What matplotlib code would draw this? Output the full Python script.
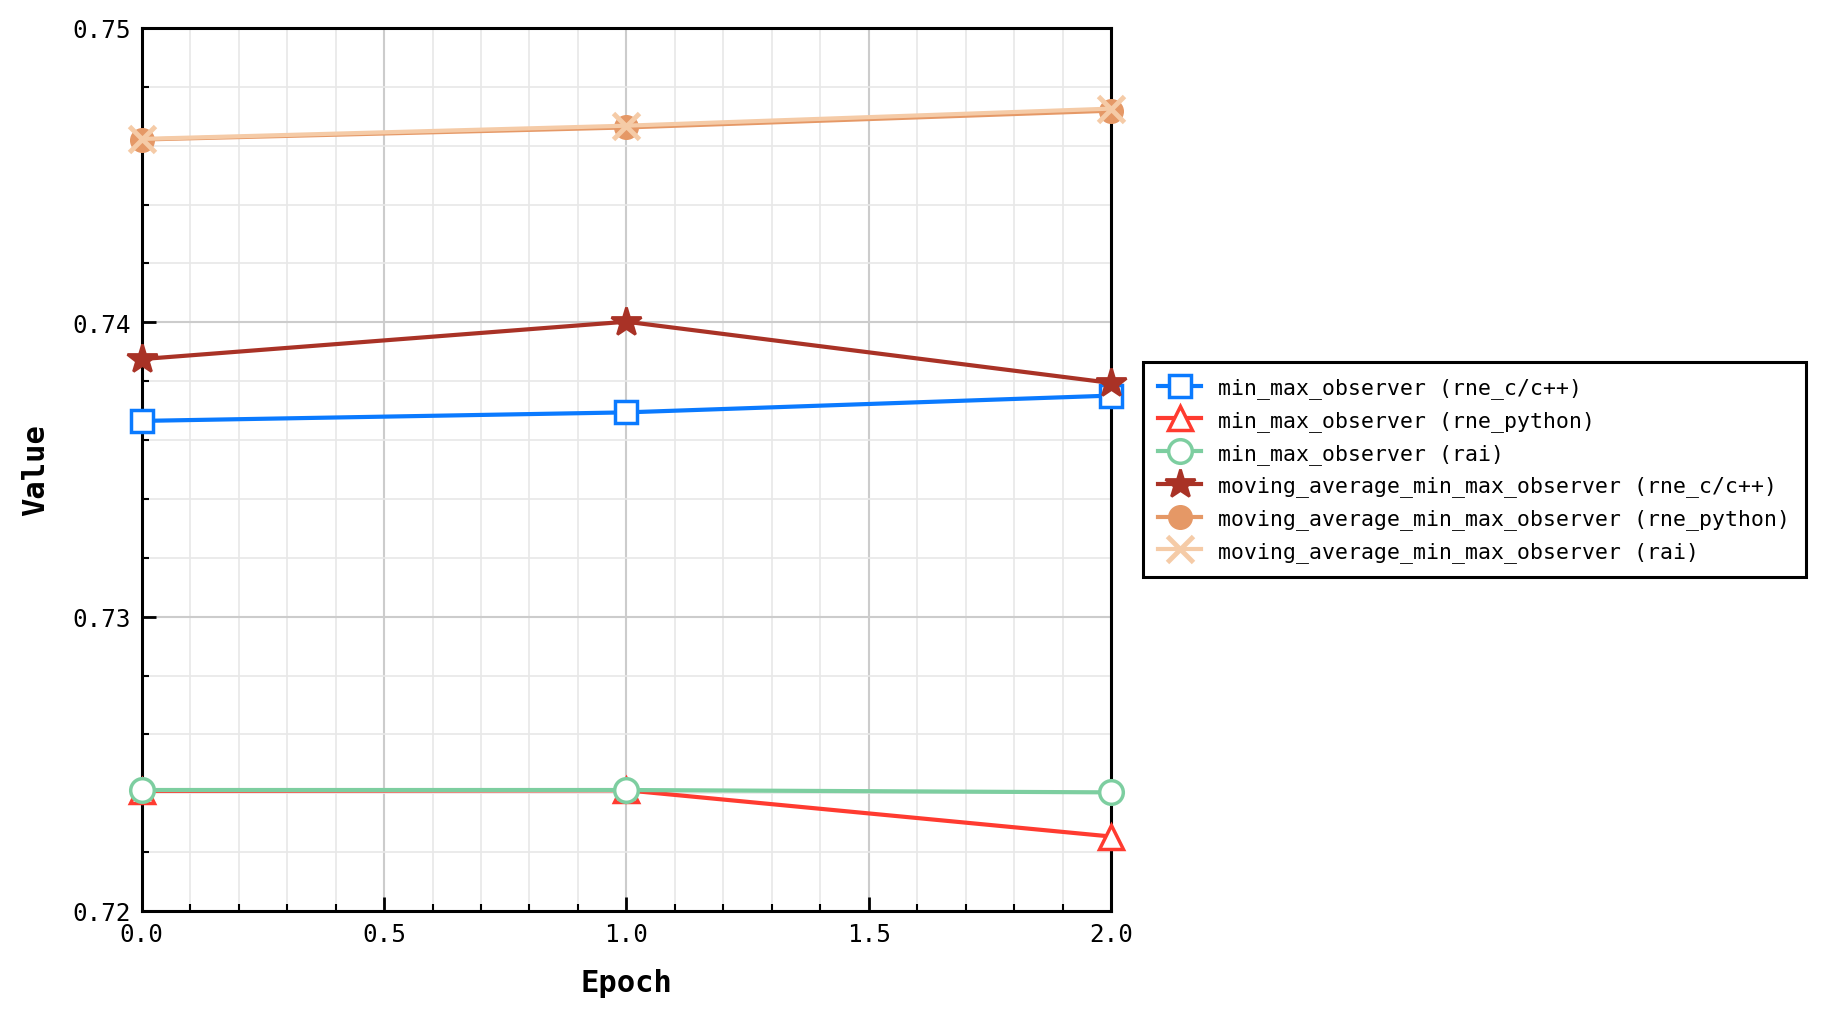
import matplotlib
matplotlib.use("Agg")
import matplotlib.pyplot as plt
from matplotlib.ticker import MultipleLocator

plt.rcParams['font.family'] = ['DejaVu Sans Mono']

epochs = [0, 1, 2]

labels = [
    'min_max_observer (rne_c/c++)',
    'min_max_observer (rne_python)',
    'min_max_observer (rai)',
    'moving_average_min_max_observer (rne_c/c++)',
    'moving_average_min_max_observer (rne_python)',
    'moving_average_min_max_observer (rai)',
]

mm_rne_c = [0.73665, 0.73694, 0.73751]
mm_rne_python = [0.72408, 0.72410, 0.72253]
mm_rai = [0.72411, 0.72411, 0.72403]
mam_rne_c = [0.73875, 0.74002, 0.73794]
mam_rne_python = [0.74621, 0.74662, 0.74719]
mam_rai = [0.74623, 0.74668, 0.74726]

colors = ['#0A7AFF', '#FF3B30', '#7DCEA0', '#A93226', '#E59866', '#F5CBA7']

fig = plt.figure(figsize=(18.22, 10.2), dpi=100)
ax = fig.add_axes([0.0778, 0.1059, 0.532, 0.8657])

# open markers for min_max, filled for moving average
ax.plot(epochs, mm_rne_c, color=colors[0], marker='s', ms=16, mfc='white', mew=2.5, lw=3, label=labels[0], clip_on=False, zorder=3)
ax.plot(epochs, mm_rne_python, color=colors[1], marker='^', ms=17, mfc='white', mew=2.5, lw=3, label=labels[1], clip_on=False, zorder=3)
ax.plot(epochs, mm_rai, color=colors[2], marker='o', ms=17, mfc='white', mew=2.5, lw=3, label=labels[2], clip_on=False, zorder=3)
ax.plot(epochs, mam_rne_c, color=colors[3], marker='*', ms=22, mew=2, lw=3, label=labels[3], clip_on=False, zorder=3)
ax.plot(epochs, mam_rne_python, color=colors[4], marker='o', ms=17, lw=3, label=labels[4], clip_on=False, zorder=3)
ax.plot(epochs, mam_rai, color=colors[5], marker='x', ms=19, mew=3.5, lw=3, label=labels[5], clip_on=False, zorder=3)

ax.set_xlim(0, 2)
ax.set_ylim(0.72, 0.75)
ax.xaxis.set_major_locator(MultipleLocator(0.5))
ax.xaxis.set_minor_locator(MultipleLocator(0.1))
ax.yaxis.set_major_locator(MultipleLocator(0.01))
ax.yaxis.set_minor_locator(MultipleLocator(0.002))

ax.grid(which='major', color='#cccccc', lw=1.5)
ax.grid(which='minor', color='#e8e8e8', lw=1.2)
ax.set_axisbelow(True)

ax.tick_params(which='major', direction='in', length=10, width=2, labelsize=17.5, pad=8)
ax.tick_params(which='minor', direction='in', length=5, width=1.5)
for s in ax.spines.values():
    s.set_linewidth(2.2)

ax.set_xlabel('Epoch', fontsize=22, fontweight='bold', labelpad=16)
ax.set_ylabel('Value', fontsize=22, fontweight='bold', labelpad=16)

leg = ax.legend(loc='center left', bbox_to_anchor=(1.022, 0.5), fontsize=15.5,
                labelspacing=0.55, borderpad=0.7, handletextpad=0.8,
                fancybox=False, edgecolor='black', framealpha=1)
leg.get_frame().set_linewidth(2.2)

fig.savefig('out.png', dpi=100)
